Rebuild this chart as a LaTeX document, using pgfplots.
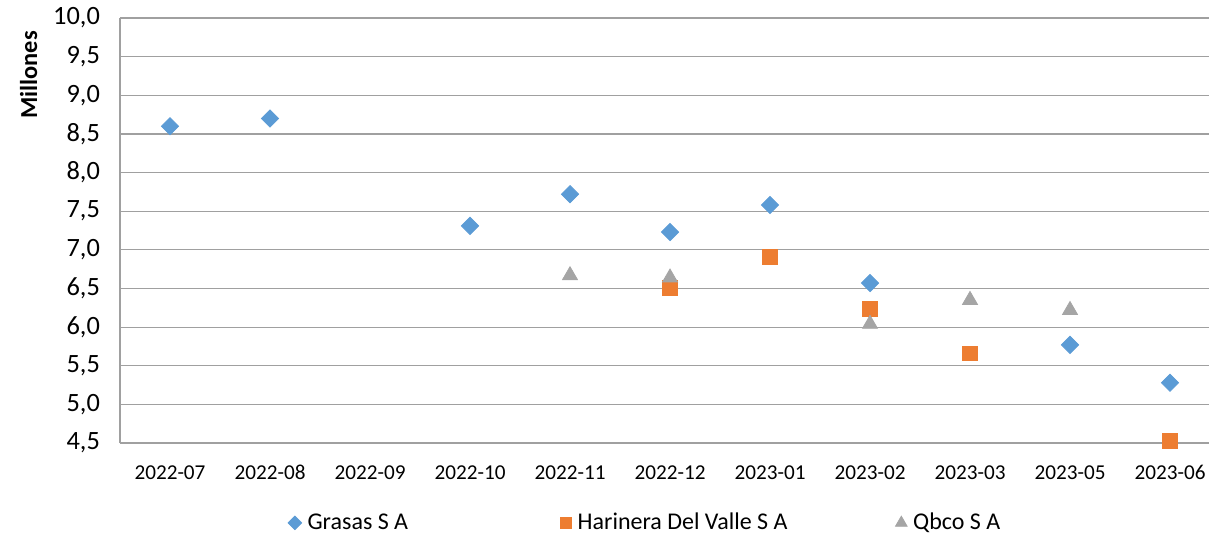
\documentclass[border=0pt]{standalone}
\usepackage{pgfplots}
\pgfplotsset{compat=1.18}
\usepackage{fontspec}
\setmainfont{Carlito}

\definecolor{cblue}{HTML}{5B9BD5}
\definecolor{corange}{HTML}{ED7D31}
\definecolor{cgray}{HTML}{A5A5A5}
\definecolor{gridc}{HTML}{A0A0A0}

\begin{document}
\begin{tikzpicture}
\useasboundingbox (-60pt,-47pt) rectangle (544.5pt,221.5pt);
\begin{axis}[
    at={(0,0)}, anchor=south west,
    scale only axis,
    width=550pt, height=212.5pt,
    xmin=-0.5, xmax=10.5,
    ymin=4.5, ymax=10,
    ytick={4.5,5,...,10},
    xtick={0,...,10},
    xticklabels={2022-07,2022-08,2022-09,2022-10,2022-11,2022-12,2023-01,2023-02,2023-03,2023-05,2023-06},
    axis lines=left,
    x axis line style={draw=none},
    y axis line style={draw=gridc, line width=0.6pt, -},
    ymajorgrids,
    grid style={draw=gridc, line width=0.6pt},
    major tick length=0pt,
    /pgf/number format/assume math mode=true,
    yticklabel={\pgfmathprintnumber[fixed,fixed zerofill,precision=1,use comma]{\tick}},
    yticklabel style={font=\fontsize{13.2}{15}\selectfont, xshift=-6.5pt},
    xticklabel style={font=\fontsize{10.6}{12}\selectfont, yshift=-7pt, text height=7.5pt, text depth=1pt},
    ylabel={\textbf{Millones}},
    every axis y label/.style={at={(axis description cs:-0.083,0.866)}, rotate=90, anchor=center, font=\fontsize{12.2}{14}\selectfont},
    clip=false,
    legend columns=3,
    legend style={at={(axis description cs:0.1525,-0.188)}, anchor=west, draw=none, fill=none, inner sep=0pt,
        font=\fontsize{12}{14}\selectfont, column sep=1pt,
        /tikz/column 2/.style={column sep=74pt},
        /tikz/column 4/.style={column sep=52pt}},
    legend image code/.code={\draw[mark repeat=2,mark phase=2,#1,every mark/.append style={scale=0.78}] plot coordinates {(0pt,0pt)(3.5pt,0pt)(6pt,0pt)};},
]
\addplot[only marks, mark=square*, mark size=3.05pt, mark options={rotate=45}, color=cblue] coordinates {
(0,8.60) (1,8.70) (3,7.31) (4,7.72) (5,7.23) (6,7.58) (7,6.57) (9,5.77) (10,5.28)};
\addplot[only marks, mark=square*, mark size=3.7pt, color=corange] coordinates {
(5,6.51) (6,6.91) (7,6.24) (8,5.66) (10,4.53)};
\addplot[only marks, mark=triangle*, mark size=4.3pt, color=cgray] coordinates {
(4,6.67) (5,6.64) (7,6.04) (8,6.35) (9,6.22)};
\legend{Grasas S A, Harinera Del Valle S A, Qbco S A}
\end{axis}
\end{tikzpicture}
\end{document}
